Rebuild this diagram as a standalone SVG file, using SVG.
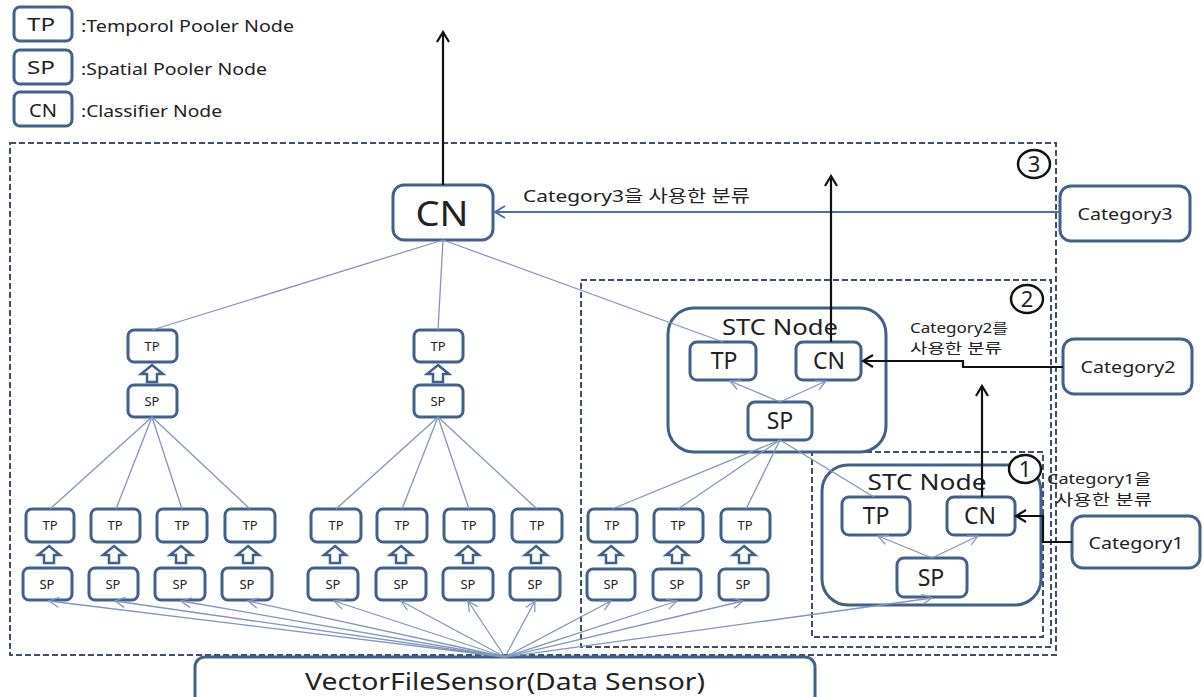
<svg xmlns="http://www.w3.org/2000/svg" width="1203" height="697" viewBox="0 0 1203 697">
  <style>
    text { font-family: "Noto Sans", "Noto Sans CJK KR", sans-serif; fill: #222; }
    .node { fill: #fff; stroke: #41608c; stroke-width: 3; }
    .frame { fill: none; stroke: #41608c; stroke-width: 3; }
    .blk { fill: #fff; stroke: #41608c; stroke-width: 2.5; stroke-linejoin: miter; }
    .dash { fill: none; stroke: #3c506e; stroke-width: 2; stroke-dasharray: 6 3; }
    .thin { fill: none; stroke: #8096c0; stroke-width: 1.3; }
    .thinA { fill: none; stroke: #8096c0; stroke-width: 1.3; marker-end: url(#vBlue); }
    .black { fill: none; stroke: #111; stroke-width: 2.2; marker-end: url(#vBlack); }
    .c13 { font-size: 13px; text-anchor: middle; }
    .c23 { font-size: 23px; text-anchor: middle; }
    .lg { font-size: 17px; }
    .cat { font-size: 17px; text-anchor: middle; }
    .num { fill: #fff; stroke: #111; stroke-width: 2.5; }
  </style>
  <defs>
    <marker id="vBlue" viewBox="0 0 12 12" refX="11" refY="6" markerWidth="12" markerHeight="12" markerUnits="userSpaceOnUse" orient="auto">
      <path d="M1,1 L11,6 L1,11" fill="none" stroke="#8096c0" stroke-width="1.3"/>
    </marker>
    <marker id="vCat" viewBox="0 0 14 14" refX="12" refY="7" markerWidth="14" markerHeight="14" markerUnits="userSpaceOnUse" orient="auto">
      <path d="M2,1 L12,7 L2,13" fill="none" stroke="#4a6fb8" stroke-width="2"/>
    </marker>
    <marker id="vBlack" viewBox="0 0 14 14" refX="12" refY="7" markerWidth="14" markerHeight="14" markerUnits="userSpaceOnUse" orient="auto">
      <path d="M2,1 L12,7 L2,13" fill="none" stroke="#111" stroke-width="2.2"/>
    </marker>
    <!-- hollow up-arrow between SP and TP -->
    <path id="up" class="blk" d="M0,0 L11,9 L5,9 L5,17 L-5,17 L-5,9 L-11,9 Z"/>
  </defs>

  <rect width="1203" height="697" fill="#fff"/>

  <!-- legend -->
  <g id="legend">
    <rect class="node" x="14" y="7" width="58" height="34" rx="6"/>
    <text x="41" y="31" font-size="18" text-anchor="middle" textLength="28" lengthAdjust="spacingAndGlyphs">TP</text>
    <text x="81" y="32" class="lg" textLength="213" lengthAdjust="spacingAndGlyphs">:Temporol Pooler Node</text>
    <rect class="node" x="14" y="50" width="58" height="34" rx="6"/>
    <text x="41" y="74" font-size="18" text-anchor="middle" textLength="28" lengthAdjust="spacingAndGlyphs">SP</text>
    <text x="81" y="75" class="lg" textLength="186" lengthAdjust="spacingAndGlyphs">:Spatial Pooler Node</text>
    <rect class="node" x="14" y="92" width="58" height="34" rx="6"/>
    <text x="43" y="117" font-size="18" text-anchor="middle" textLength="28" lengthAdjust="spacingAndGlyphs">CN</text>
    <text x="81" y="117" class="lg" textLength="141" lengthAdjust="spacingAndGlyphs">:Classifier Node</text>
  </g>

  <!-- dashed regions -->
  <g id="regions">
    <rect class="dash" x="10" y="143" width="1046" height="512"/>
    <rect class="dash" x="581" y="280" width="470" height="367"/>
    <rect class="dash" x="812" y="452" width="231" height="185"/>
  </g>

  <!-- top classifier -->
  <g id="cn-top">
    <rect class="node" x="393" y="185" width="100" height="55" rx="11"/>
    <text x="442" y="226" font-size="34" text-anchor="middle" textLength="53" lengthAdjust="spacingAndGlyphs">CN</text>
  </g>

  <!-- category sources -->
  <g id="category3">
    <rect class="node" x="1060" y="186" width="130" height="55" rx="11"/>
    <text x="1125" y="220" class="cat" textLength="95" lengthAdjust="spacingAndGlyphs">Category3</text>
  </g>
  <g id="category2">
    <rect class="node" x="1063" y="339" width="129" height="55" rx="11"/>
    <text x="1128" y="373" class="cat" textLength="95" lengthAdjust="spacingAndGlyphs">Category2</text>
  </g>
  <g id="category1">
    <rect class="node" x="1072" y="516" width="128" height="52" rx="11"/>
    <text x="1136" y="549" class="cat" textLength="95" lengthAdjust="spacingAndGlyphs">Category1</text>
  </g>

  <!-- STC node 2 -->
  <g id="stc2">
    <rect class="frame" x="668" y="308" width="218" height="144" rx="26"/>
    <text x="780" y="335" font-size="21" text-anchor="middle" textLength="116" lengthAdjust="spacingAndGlyphs">STC Node</text>
    <rect class="node" x="690" y="342" width="66" height="38" rx="7"/>
    <text x="724" y="369" class="c23">TP</text>
    <rect class="node" x="796" y="342" width="65" height="38" rx="7"/>
    <text x="829" y="369" class="c23">CN</text>
    <rect class="node" x="748" y="402" width="64" height="38" rx="7"/>
    <text x="780" y="429" class="c23">SP</text>
  </g>

  <!-- STC node 1 -->
  <g id="stc1">
    <rect class="frame" x="822" y="465" width="219" height="140" rx="26"/>
    <text x="927" y="490" font-size="21" text-anchor="middle" textLength="119" lengthAdjust="spacingAndGlyphs">STC Node</text>
    <rect class="node" x="842" y="497" width="68" height="38" rx="7"/>
    <text x="876" y="524" class="c23">TP</text>
    <rect class="node" x="947" y="497" width="68" height="38" rx="7"/>
    <text x="980" y="524" class="c23">CN</text>
    <rect class="node" x="897" y="558" width="70" height="39" rx="7"/>
    <text x="931" y="586" class="c23">SP</text>
  </g>

  <!-- level-2 pooler pairs -->
  <g id="pair-l2-a">
    <rect class="node" x="128" y="330" width="49" height="32" rx="6"/>
    <text x="152" y="351" class="c13">TP</text>
    <use href="#up" x="152" y="365"/>
    <rect class="node" x="128" y="385" width="49" height="32" rx="6"/>
    <text x="152" y="406" class="c13">SP</text>
  </g>
  <g id="pair-l2-b">
    <rect class="node" x="414" y="330" width="49" height="32" rx="6"/>
    <text x="438" y="351" class="c13">TP</text>
    <use href="#up" x="438" y="365"/>
    <rect class="node" x="414" y="385" width="49" height="32" rx="6"/>
    <text x="438" y="406" class="c13">SP</text>
  </g>

  <!-- level-1 pooler pairs -->
  <g id="pair-1"><rect class="node" x="26" y="509" width="48" height="33" rx="6"/><text x="50" y="530" class="c13">TP</text><use href="#up" x="49" y="546"/><rect class="node" x="23" y="568" width="49" height="32" rx="6"/><text x="47" y="589" class="c13">SP</text></g>
  <g id="pair-2"><rect class="node" x="91" y="509" width="49" height="33" rx="6"/><text x="115" y="530" class="c13">TP</text><use href="#up" x="114" y="546"/><rect class="node" x="89" y="568" width="49" height="32" rx="6"/><text x="113" y="589" class="c13">SP</text></g>
  <g id="pair-3"><rect class="node" x="157" y="509" width="50" height="33" rx="6"/><text x="182" y="530" class="c13">TP</text><use href="#up" x="181" y="546"/><rect class="node" x="155" y="568" width="50" height="32" rx="6"/><text x="180" y="589" class="c13">SP</text></g>
  <g id="pair-4"><rect class="node" x="225" y="509" width="50" height="33" rx="6"/><text x="250" y="530" class="c13">TP</text><use href="#up" x="248" y="546"/><rect class="node" x="222" y="568" width="50" height="32" rx="6"/><text x="247" y="589" class="c13">SP</text></g>
  <g id="pair-5"><rect class="node" x="311" y="509" width="50" height="33" rx="6"/><text x="336" y="530" class="c13">TP</text><use href="#up" x="335" y="546"/><rect class="node" x="308" y="568" width="50" height="32" rx="6"/><text x="333" y="589" class="c13">SP</text></g>
  <g id="pair-6"><rect class="node" x="377" y="509" width="50" height="33" rx="6"/><text x="402" y="530" class="c13">TP</text><use href="#up" x="401" y="546"/><rect class="node" x="376" y="568" width="50" height="32" rx="6"/><text x="401" y="589" class="c13">SP</text></g>
  <g id="pair-7"><rect class="node" x="444" y="509" width="50" height="33" rx="6"/><text x="469" y="530" class="c13">TP</text><use href="#up" x="468" y="546"/><rect class="node" x="443" y="568" width="50" height="32" rx="6"/><text x="468" y="589" class="c13">SP</text></g>
  <g id="pair-8"><rect class="node" x="512" y="509" width="50" height="33" rx="6"/><text x="537" y="530" class="c13">TP</text><use href="#up" x="536" y="546"/><rect class="node" x="510" y="568" width="50" height="32" rx="6"/><text x="535" y="589" class="c13">SP</text></g>
  <g id="pair-9"><rect class="node" x="588" y="509" width="49" height="33" rx="6"/><text x="612" y="530" class="c13">TP</text><use href="#up" x="611" y="546"/><rect class="node" x="587" y="569" width="48" height="31" rx="6"/><text x="611" y="589" class="c13">SP</text></g>
  <g id="pair-10"><rect class="node" x="654" y="509" width="49" height="33" rx="6"/><text x="678" y="530" class="c13">TP</text><use href="#up" x="677" y="546"/><rect class="node" x="653" y="569" width="48" height="31" rx="6"/><text x="677" y="589" class="c13">SP</text></g>
  <g id="pair-11"><rect class="node" x="721" y="509" width="49" height="33" rx="6"/><text x="745" y="530" class="c13">TP</text><use href="#up" x="744" y="546"/><rect class="node" x="719" y="569" width="49" height="31" rx="6"/><text x="743" y="589" class="c13">SP</text></g>

  <!-- data sensor -->
  <g id="sensor">
    <rect class="node" x="195" y="657" width="620" height="50" rx="10"/>
    <text x="505" y="690" font-size="24" text-anchor="middle" textLength="400" lengthAdjust="spacingAndGlyphs">VectorFileSensor(Data Sensor)</text>
  </g>

  <!-- connectors -->
  <g id="connectors">
    <!-- top classifier to level-2 nodes -->
    <line class="thin" x1="443" y1="240" x2="152" y2="330"/>
    <line class="thin" x1="443" y1="240" x2="438" y2="330"/>
    <line class="thin" x1="443" y1="240" x2="723" y2="342"/>
    <!-- left SP fan -->
    <line class="thin" x1="152" y1="417" x2="50" y2="509"/>
    <line class="thin" x1="152" y1="417" x2="116" y2="509"/>
    <line class="thin" x1="152" y1="417" x2="182" y2="509"/>
    <line class="thin" x1="152" y1="417" x2="250" y2="509"/>
    <!-- middle SP fan -->
    <line class="thin" x1="438" y1="417" x2="336" y2="509"/>
    <line class="thin" x1="438" y1="417" x2="402" y2="509"/>
    <line class="thin" x1="438" y1="417" x2="469" y2="509"/>
    <line class="thin" x1="438" y1="417" x2="537" y2="509"/>
    <!-- STC2 SP fan -->
    <line class="thin" x1="780" y1="440" x2="612" y2="509"/>
    <line class="thin" x1="780" y1="440" x2="678" y2="509"/>
    <line class="thin" x1="780" y1="440" x2="746" y2="509"/>
    <line class="thin" x1="780" y1="440" x2="874" y2="497"/>
    <!-- inside STC nodes -->
    <line class="thinA" x1="780" y1="402" x2="730" y2="381"/>
    <line class="thinA" x1="780" y1="402" x2="826" y2="381"/>
    <line class="thinA" x1="932" y1="558" x2="878" y2="536"/>
    <line class="thinA" x1="932" y1="558" x2="978" y2="536"/>
    <!-- sensor fan -->
    <line class="thinA" x1="505" y1="657" x2="49" y2="601"/>
    <line class="thinA" x1="505" y1="657" x2="115" y2="601"/>
    <line class="thinA" x1="505" y1="657" x2="181" y2="601"/>
    <line class="thinA" x1="505" y1="657" x2="248" y2="601"/>
    <line class="thinA" x1="505" y1="657" x2="334" y2="601"/>
    <line class="thinA" x1="505" y1="657" x2="401" y2="601"/>
    <line class="thinA" x1="505" y1="657" x2="468" y2="601"/>
    <line class="thinA" x1="505" y1="657" x2="535" y2="601"/>
    <line class="thinA" x1="505" y1="657" x2="611" y2="601"/>
    <line class="thinA" x1="505" y1="657" x2="677" y2="601"/>
    <line class="thinA" x1="505" y1="657" x2="743" y2="601"/>
    <line class="thinA" x1="505" y1="657" x2="932" y2="598"/>
    <!-- category inputs -->
    <line x1="1060" y1="212" x2="495" y2="212" stroke="#4a6fb8" stroke-width="2" marker-end="url(#vCat)"/>
    <path class="black" d="M1063,367 L963,367 L963,361 L863,361"/>
    <path class="black" d="M1072,542 L1043,542 L1043,516 L1016,516"/>
    <!-- outputs -->
    <line class="black" x1="443" y1="185" x2="443" y2="32"/>
    <line class="black" x1="831" y1="342" x2="831" y2="176"/>
    <line class="black" x1="982" y1="497" x2="982" y2="386"/>
  </g>

  <!-- edge labels -->
  <g id="labels">
    <text x="523" y="202" font-size="17" textLength="227" lengthAdjust="spacingAndGlyphs">Category3을 사용한 분류</text>
    <text x="910" y="333" font-size="14" textLength="98" lengthAdjust="spacingAndGlyphs">Category2를</text>
    <text x="910" y="353" font-size="14" textLength="92" lengthAdjust="spacingAndGlyphs">사용한 분류</text>
    <text x="1047" y="484" font-size="15" textLength="104" lengthAdjust="spacingAndGlyphs">Category1을</text>
    <text x="1055" y="505" font-size="15" textLength="97" lengthAdjust="spacingAndGlyphs">사용한 분류</text>
  </g>

  <!-- region numbers -->
  <g id="num3"><ellipse class="num" cx="1034" cy="164" rx="16" ry="14"/><text x="1034" y="172" font-size="22" text-anchor="middle">3</text></g>
  <g id="num2"><ellipse class="num" cx="1027" cy="299" rx="16" ry="14"/><text x="1027" y="307" font-size="22" text-anchor="middle">2</text></g>
  <g id="num1"><ellipse class="num" cx="1025" cy="469" rx="16" ry="14"/><text x="1025" y="477" font-size="22" text-anchor="middle">1</text></g>
</svg>
